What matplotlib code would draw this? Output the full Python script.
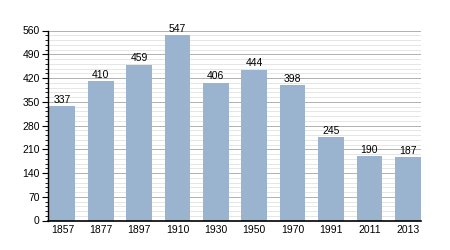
import matplotlib
matplotlib.use('Agg')
import matplotlib.pyplot as plt
import numpy as np

years = ['1857', '1877', '1897', '1910', '1930', '1950', '1970', '1991', '2011', '2013']
population = [337, 410, 459, 547, 406, 444, 398, 245, 190, 187]
yticks = [0, 70, 140, 210, 280, 350, 420, 490, 560]

plt.rcParams['font.family'] = ['Liberation Sans', 'DejaVu Sans']

fig = plt.figure(figsize=(4.5, 2.5), dpi=100)
ax = fig.add_axes([0.107, 0.118, 0.829, 0.76])

x = np.arange(len(years))
bars = ax.bar(x, population, width=0.67, color='#9ab3cf', zorder=3)
for xi, v in zip(x, population):
    ax.text(xi, v + 4, str(v), ha='center', va='bottom', fontsize=7.5, zorder=4)

ax.set_xlim(-0.37, 9.35)
ax.set_ylim(0, 560)
ax.set_xticks(x)
ax.set_xticklabels(years)
ax.set_yticks(yticks)
ax.set_yticks(np.arange(0, 561, 14), minor=True)
ax.grid(True, axis='y', which='major', color='#b0b0b0', linewidth=0.7, zorder=0)
ax.grid(True, axis='y', which='minor', color='#e6e6e6', linewidth=0.7, zorder=0)

for s in ['top', 'right']:
    ax.spines[s].set_visible(False)
ax.spines['left'].set_linewidth(1.0)
ax.spines['bottom'].set_linewidth(1.2)
ax.spines['left'].set_zorder(5)
ax.spines['bottom'].set_zorder(5)
ax.tick_params(axis='x', length=0, labelsize=7.5, pad=3)
ax.tick_params(axis='y', which='major', length=4, labelsize=7.5, pad=2)
ax.tick_params(axis='y', which='minor', length=2)

fig.savefig('out.png', dpi=100)
